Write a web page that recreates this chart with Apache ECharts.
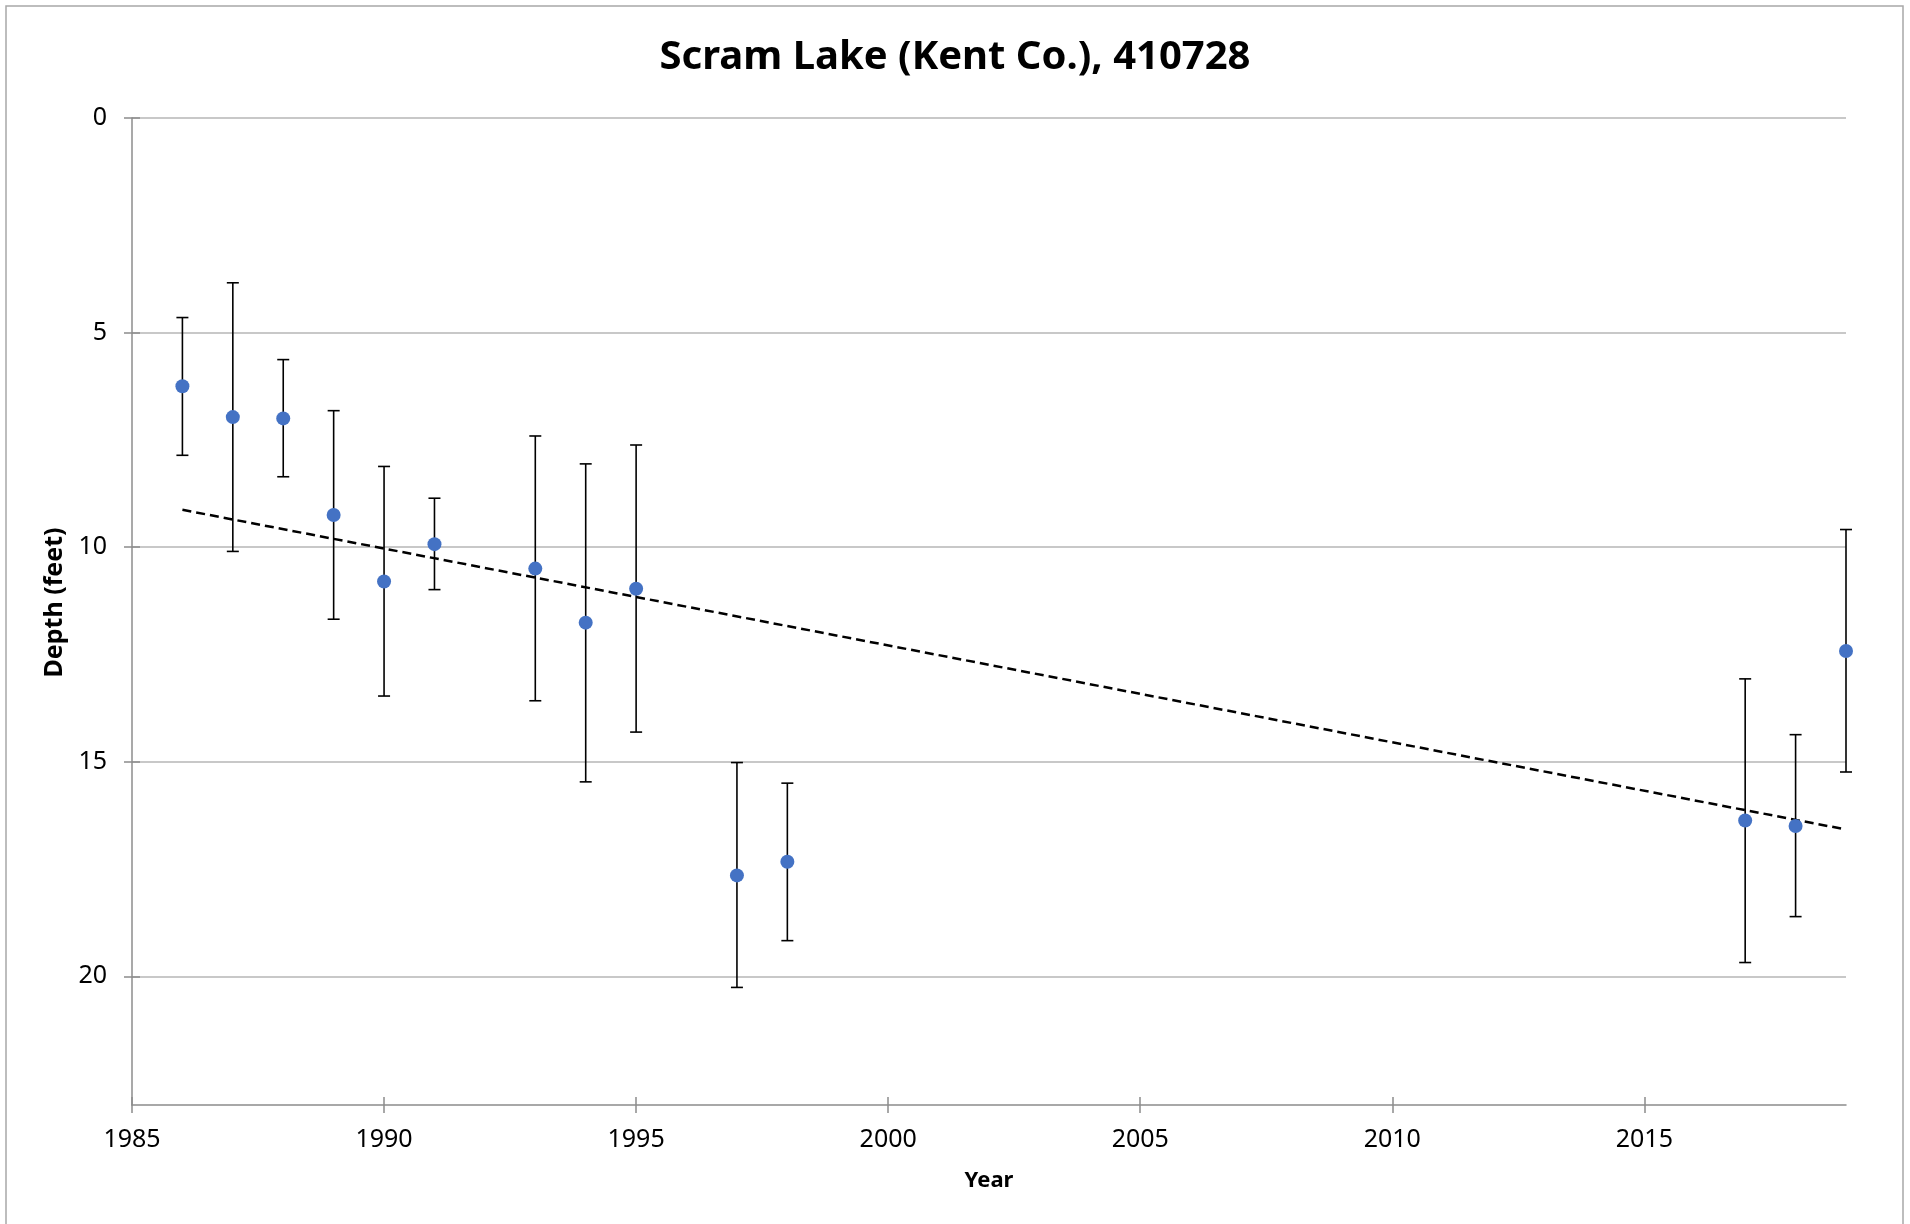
<!DOCTYPE html>
<html>
<head>
<meta charset="utf-8">
<script src="https://cdn.jsdelivr.net/npm/echarts@6/dist/echarts.min.js"></script>
<style>
  html, body { margin: 0; padding: 0; background: #ffffff; }
  #chart { width: 1910px; height: 1224px; }
</style>
</head>
<body>
<div id="chart"></div>
<script>
// ---- Data ----
const years = [1986, 1987, 1988, 1989, 1990, 1991, 1993, 1994, 1995, 1997, 1998, 2017, 2018, 2019];
const depths = [6.25, 6.97, 7.0, 9.25, 10.8, 9.93, 10.5, 11.76, 10.97, 17.65, 17.33, 16.37, 16.5, 12.42];
const errLow = [4.65, 3.84, 5.63, 6.82, 8.12, 8.86, 7.41, 8.06, 7.62, 15.02, 15.5, 13.07, 14.37, 9.59];
const errHigh = [7.86, 10.1, 8.36, 11.68, 13.47, 10.99, 13.58, 15.47, 14.31, 20.26, 19.17, 19.68, 18.61, 15.24];
const trendYears = [1986, 2019];
const trendDepths = [9.13, 16.58];
const xTickLabels = [1985, 1990, 1995, 2000, 2005, 2010, 2015];
const yTickLabels = [0, 5, 10, 15, 20];

const FONT = '"Noto Sans", "Open Sans", sans-serif';
const AXIS_COLOR = '#8c8c8c';
const GRID = { left: 132, right: 64, top: 118, bottom: 119 };
const W = 1910, H = 1224;
const gridW = W - GRID.left - GRID.right;
const gridH = H - GRID.top - GRID.bottom;

const points = years.map((y, i) => [y, depths[i]]);
const errData = years.map((y, i) => [y, errLow[i], errHigh[i]]);
const trendData = trendYears.map((y, i) => [y, trendDepths[i]]);

const chart = echarts.init(document.getElementById('chart'), null, { renderer: 'canvas' });

const commonX = {
  type: 'value', min: 1985, max: 2019, interval: 5,
  splitLine: { show: false }
};
const commonY = {
  type: 'value', min: 0, max: 23, interval: 5, inverse: true
};
const tickStyle = { color: AXIS_COLOR, width: 1.5 };

chart.setOption({
  animation: false,
  backgroundColor: '#ffffff',
  title: {
    text: 'Scram Lake (Kent Co.), 410728',
    left: 'center', top: 33,
    textStyle: { fontFamily: FONT, fontSize: 40, fontWeight: 'bold', color: '#000000' }
  },
  graphic: [{
    type: 'rect', silent: true, z: -1,
    shape: { x: 6, y: 6, width: 1897, height: 1230 },
    style: { fill: null, stroke: '#a8a8a8', lineWidth: 1.5 }
  }],
  grid: { left: GRID.left, right: GRID.right, top: GRID.top, bottom: GRID.bottom, containLabel: false },
  xAxis: [
    Object.assign({}, commonX, {
      position: 'bottom',
      name: 'Year', nameLocation: 'middle', nameGap: 65,
      nameTextStyle: { fontFamily: FONT, fontSize: 22, fontWeight: 'bold', color: '#000' },
      axisLine: { show: true, onZero: false, lineStyle: { color: AXIS_COLOR, width: 1.5 } },
      axisTick: { show: true, inside: false, length: 8, customValues: xTickLabels, lineStyle: tickStyle },
      axisLabel: { show: true, margin: 22, customValues: xTickLabels, fontFamily: FONT, fontSize: 25, color: '#000',
        formatter: function (v) { return String(v); } }
    }),
    // second copy of the scale, shifted onto the bottom edge, so ticks cross the axis line
    Object.assign({}, commonX, {
      position: 'top', offset: -gridH,
      axisLine: { show: false },
      axisTick: { show: true, inside: false, length: 8, customValues: xTickLabels, lineStyle: tickStyle },
      axisLabel: { show: false }
    })
  ],
  yAxis: [
    Object.assign({}, commonY, {
      position: 'left',
      name: 'Depth (feet)', nameLocation: 'middle', nameGap: 63, nameRotate: 90,
      nameTextStyle: { fontFamily: FONT, fontSize: 25, fontWeight: 'bold', color: '#000', padding: [0, 0, 0, 18] },
      axisLine: { show: true, onZero: false, lineStyle: { color: AXIS_COLOR, width: 1.5 } },
      axisTick: { show: true, inside: false, length: 8, customValues: yTickLabels, lineStyle: tickStyle },
      axisLabel: { show: true, margin: 25, customValues: yTickLabels, fontFamily: FONT, fontSize: 25, color: '#000' },
      splitLine: { show: true, lineStyle: { color: '#c8c8c8', width: 2 } }
    }),
    Object.assign({}, commonY, {
      position: 'right', offset: -gridW,
      axisLine: { show: false },
      axisTick: { show: true, inside: false, length: 8, customValues: yTickLabels, lineStyle: tickStyle },
      axisLabel: { show: false },
      splitLine: { show: false }
    })
  ],
  series: [
    {
      name: 'Trend', type: 'line', xAxisIndex: 0, yAxisIndex: 0,
      data: trendData, showSymbol: false, symbol: 'none', z: 3,
      lineStyle: { color: '#000000', width: 2.5, type: [9, 5] }
    },
    {
      name: 'Error', type: 'custom', xAxisIndex: 0, yAxisIndex: 0, z: 4,
      data: errData,
      renderItem: function (params, api) {
        const x = api.value(0);
        const top = api.coord([x, api.value(1)]);
        const bot = api.coord([x, api.value(2)]);
        const hw = 6;
        const style = { stroke: '#000000', lineWidth: 1.6 };
        return {
          type: 'group',
          children: [
            { type: 'line', shape: { x1: top[0], y1: top[1], x2: bot[0], y2: bot[1] }, style: style },
            { type: 'line', shape: { x1: top[0] - hw, y1: top[1], x2: top[0] + hw, y2: top[1] }, style: style },
            { type: 'line', shape: { x1: bot[0] - hw, y1: bot[1], x2: bot[0] + hw, y2: bot[1] }, style: style }
          ]
        };
      }
    },
    {
      name: 'Depth', type: 'scatter', xAxisIndex: 0, yAxisIndex: 0, z: 5,
      data: points, symbol: 'circle', symbolSize: 14,
      itemStyle: { color: '#4472c4', opacity: 1 }
    }
  ]
});
</script>
</body>
</html>
